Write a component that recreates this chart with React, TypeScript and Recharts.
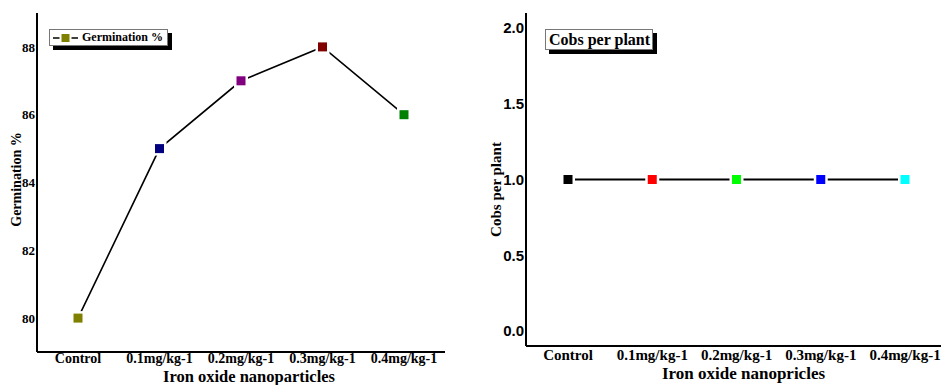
import { LineChart, Line, XAxis, YAxis } from 'recharts';

const categories = ['Control', '0.1mg/kg-1', '0.2mg/kg-1', '0.3mg/kg-1', '0.4mg/kg-1'];
const germination = [80, 85, 87, 88, 86];
const cobsPerPlant = [1, 1, 1, 1, 1];
const germColors = ['#808000', '#000080', '#800080', '#800000', '#008000'];
const cobColors = ['#000000', '#ff0000', '#00ff00', '#0000ff', '#00ffff'];
const germTicks = [80, 82, 84, 86, 88];
const cobTicks = [0, 0.5, 1, 1.5, 2];

const germData = categories.map((c, i) => ({ name: c, value: germination[i] }));
const cobData = categories.map((c, i) => ({ name: c, value: cobsPerPlant[i] }));

const SERIF = '"Liberation Serif", "Times New Roman", serif';
const SANS = '"Liberation Sans", Arial, sans-serif';

// square marker with a white halo so the line stops short of it
const squareDot = (colors: string[]) => (p: any) => {
  const { cx, cy, index } = p;
  return (
    <g key={`dot-${index}`}>
      <rect x={cx - 7} y={cy - 7} width={14} height={14} fill="#fff" />
      <rect x={cx - 4.5} y={cy - 4.5} width={9} height={9} fill={colors[index]} />
    </g>
  );
};

const legendBox = {
  position: 'absolute' as const,
  boxSizing: 'border-box' as const,
  background: '#fff',
  border: '1px solid #777',
  boxShadow: '4px 4px 0 #000',
  fontFamily: SERIF,
  fontWeight: 'bold' as const,
  color: '#000',
  display: 'flex',
  alignItems: 'center',
  whiteSpace: 'nowrap' as const,
};

function GerminationChart() {
  return (
    <div style={{ position: 'absolute', left: 0, top: 0 }}>
      <LineChart width={470} height={385} data={germData} margin={{ top: 13, right: 25, bottom: 0, left: 7 }}>
        <XAxis
          dataKey="name"
          height={33}
          padding={{ left: 41, right: 41 }}
          axisLine={{ stroke: '#000', strokeWidth: 2 }}
          tickLine={false}
          tickSize={0}
          tickMargin={1.5}
          interval={0}
          tick={{ fill: '#000', fontSize: 14, fontFamily: SERIF, fontWeight: 'bold' }}
          label={{
            content: ({ viewBox }: any) => (
              <text x={viewBox.x + viewBox.width / 2 + 8} y={381.5} textAnchor="middle"
                style={{ fontFamily: SERIF, fontWeight: 'bold', fontSize: 16.5, fill: '#000' }}>
                Iron oxide nanoparticles
              </text>
            ),
          }}
        />
        <XAxis xAxisId="top" dataKey="name" orientation="top" height={0} tick={false} tickLine={false}
          axisLine={{ stroke: '#000', strokeWidth: 1.5 }} />
        <YAxis
          domain={[79, 89]}
          ticks={germTicks}
          width={30}
          axisLine={{ stroke: '#000', strokeWidth: 2 }}
          tickLine={false}
          tickSize={0}
          tickMargin={2}
          tick={{ fill: '#000', fontSize: 13, fontFamily: SERIF, fontWeight: 'bold' }}
          label={{
            content: ({ viewBox }: any) => {
              const cy = viewBox.y + viewBox.height / 2 - 3;
              return (
                <text x={21} y={cy} transform={`rotate(-90 21 ${cy})`} textAnchor="middle"
                  style={{ fontFamily: SERIF, fontWeight: 'bold', fontSize: 14, fill: '#000' }}>
                  Germination %
                </text>
              );
            },
          }}
        />
        <YAxis yAxisId="right" orientation="right" width={0} tick={false} tickLine={false}
          axisLine={{ stroke: '#000', strokeWidth: 1.5 }} />
        <Line dataKey="value" stroke="#000" strokeWidth={1.6} dot={squareDot(germColors)} isAnimationActive={false} />
      </LineChart>
      <div style={{ ...legendBox, left: 49, top: 29, width: 119, height: 17, fontSize: 12 }}>
        <svg width={29} height={14} style={{ marginLeft: 2 }}>
          <line x1={1} y1={7} x2={26} y2={7} stroke="#000" strokeWidth={1.5} />
          <rect x={7.5} y={1} width={12} height={12} fill="#fff" />
          <rect x={9.5} y={3} width={8} height={8} fill={germColors[0]} />
        </svg>
        <span style={{ marginLeft: 1 }}>Germination %</span>
      </div>
    </div>
  );
}

function CobsChart() {
  return (
    <div style={{ position: 'absolute', left: 470, top: 0 }}>
      <LineChart width={480} height={385} data={cobData} margin={{ top: 13, right: 3, bottom: 0, left: 16 }}>
        <XAxis
          dataKey="name"
          height={39}
          padding={{ left: 42, right: 42 }}
          axisLine={{ stroke: '#000', strokeWidth: 2 }}
          tickLine={false}
          tickSize={0}
          tickMargin={3}
          interval={0}
          tick={{ fill: '#000', fontSize: 15, fontFamily: SERIF, fontWeight: 'bold' }}
          label={{
            content: ({ viewBox }: any) => (
              <text x={viewBox.x + viewBox.width / 2 + 7} y={379} textAnchor="middle"
                style={{ fontFamily: SERIF, fontWeight: 'bold', fontSize: 17, fill: '#000' }}>
                Iron oxide nanopricles
              </text>
            ),
          }}
        />
        <XAxis xAxisId="top" dataKey="name" orientation="top" height={0} tick={false} tickLine={false}
          axisLine={{ stroke: '#000', strokeWidth: 1.5 }} />
        <YAxis
          domain={[-0.1, 2.1]}
          ticks={cobTicks}
          width={40}
          axisLine={{ stroke: '#000', strokeWidth: 2 }}
          tickLine={false}
          tickSize={0}
          tickMargin={2}
          tickFormatter={(v: number) => v.toFixed(1)}
          tick={{ fill: '#000', fontSize: 15, fontFamily: SANS, fontWeight: 'bold' }}
          label={{
            content: ({ viewBox }: any) => {
              const cy = viewBox.y + viewBox.height / 2 + 10;
              return (
                <text x={31} y={cy} transform={`rotate(-90 31 ${cy})`} textAnchor="middle"
                  style={{ fontFamily: SERIF, fontWeight: 'bold', fontSize: 15, fill: '#000' }}>
                  Cobs per plant
                </text>
              );
            },
          }}
        />
        <Line dataKey="value" stroke="#000" strokeWidth={1.8} dot={squareDot(cobColors)} isAnimationActive={false} />
      </LineChart>
      <div style={{ ...legendBox, left: 75, top: 29, width: 108, height: 21, fontSize: 16, paddingLeft: 3 }}>
        Cobs per plant
      </div>
    </div>
  );
}

export default function App() {
  return (
    <div style={{ position: 'fixed', left: 0, top: 0, width: 941, height: 385, overflow: 'hidden', background: '#fff' }}>
      <GerminationChart />
      <CobsChart />
    </div>
  );
}
